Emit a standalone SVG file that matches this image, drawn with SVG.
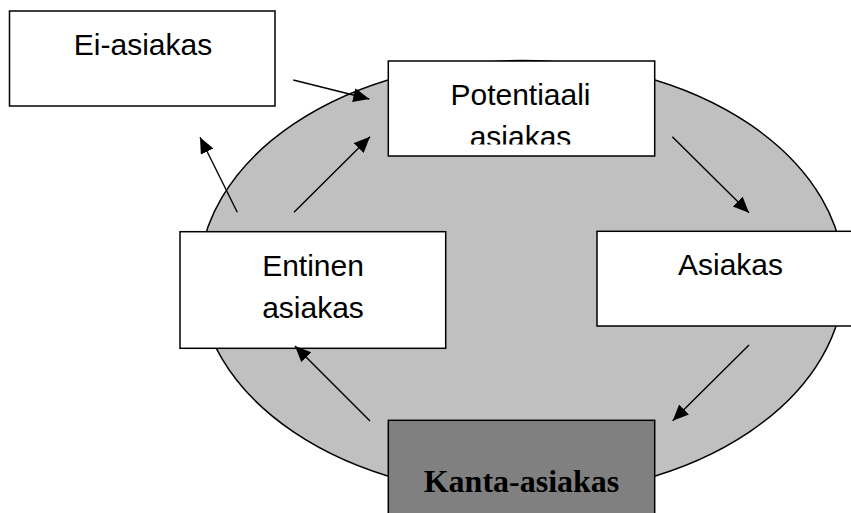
<svg xmlns="http://www.w3.org/2000/svg" width="851" height="513" viewBox="0 0 851 513">
<style>
.box{fill:#ffffff;stroke:#000;stroke-width:1.5}
.lbl{font-family:"Liberation Sans",Arial,sans-serif;font-size:30px;fill:#000;text-anchor:middle}
.bold{font-family:"Liberation Serif","Times New Roman",serif;font-size:32px;font-weight:bold;fill:#000;text-anchor:middle}
.conn line{stroke:#000;stroke-width:1.4;marker-end:url(#ah)}
</style>
<defs>
<marker id="ah" markerUnits="userSpaceOnUse" markerWidth="20" markerHeight="16" refX="16" refY="7" orient="auto">
<path d="M0,0 L16,7 L0,14 Z" fill="#000"/>
</marker>
<clipPath id="potclip"><rect x="389" y="62" width="265" height="82.5"/></clipPath>
</defs>
<rect width="851" height="513" fill="#ffffff"/>
<ellipse id="cycle" cx="521.5" cy="278" rx="322.5" ry="217.5" fill="#c0c0c0" stroke="#000" stroke-width="1.5"/>
<g id="ei-asiakas">
<rect class="box" x="9.5" y="11" width="265.5" height="95"/>
<text class="lbl" x="143" y="55">Ei-asiakas</text>
</g>
<g id="potentiaali">
<rect class="box" x="388.3" y="61" width="266.4" height="95"/>
<g clip-path="url(#potclip)">
<text class="lbl" x="520.5" y="105">Potentiaali</text>
<text class="lbl" x="520.5" y="147">asiakas</text>
</g>
</g>
<g id="asiakas">
<rect class="box" x="597" y="231.3" width="260" height="94.7"/>
<text class="lbl" x="730.5" y="275.3">Asiakas</text>
</g>
<g id="entinen">
<rect class="box" x="180" y="231.7" width="265.7" height="116.6"/>
<text class="lbl" x="313" y="276">Entinen</text>
<text class="lbl" x="313" y="318">asiakas</text>
</g>
<g id="kanta-asiakas">
<rect x="388.3" y="420.3" width="266.4" height="100" fill="#808080" stroke="#000" stroke-width="1.5"/>
<text class="bold" x="521.5" y="492.3">Kanta-asiakas</text>
</g>
<g id="connectors" class="conn">
<line x1="293.3" y1="80" x2="369.3" y2="99"/>
<line x1="237.3" y1="212.3" x2="200" y2="137.3"/>
<line x1="294" y1="212.3" x2="370" y2="136.7"/>
<line x1="672.3" y1="136.7" x2="749" y2="212.7"/>
<line x1="749" y1="345" x2="672.7" y2="420.7"/>
<line x1="370" y1="421" x2="295" y2="346"/>
</g>
</svg>
